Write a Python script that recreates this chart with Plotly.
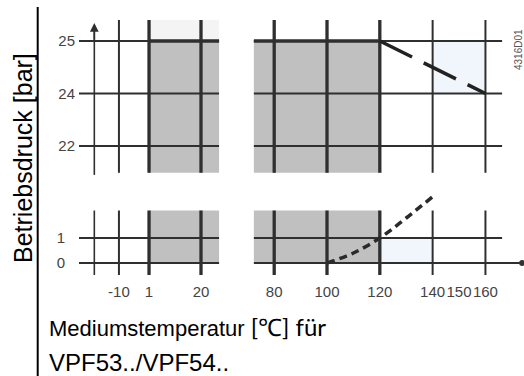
import plotly.graph_objects as go

# ---------------- data ----------------
TEMP_TICKS_LOW = [-10, 1, 20]
TEMP_TICKS_HIGH = [80, 100, 120, 140, 150, 160]
GRID_TEMPS_LOW = [-10, 1, 20]
GRID_TEMPS_HIGH = [80, 100, 120, 140, 160]
THICK_TEMPS = [1, 20, 80, 100, 120]
PRESSURE_LEVELS_HIGH = ["22", "24", "25"]
PRESSURE_TICKS_LOW = [0, 1]
RANGE_LOW_T = [1, 20]          # permitted range, low side (gray)
RANGE_HIGH_TMAX = 120          # permitted range, high side up to 120 °C (gray)
MAX_PRESSURE = "25"
LIMIT_LINE_T = [120, 160]      # derating line
LIMIT_LINE_P = ["25", "24"]
STEAM_T = [100, 110, 120, 130, 140]   # vapour pressure curve
STEAM_P = [0, 0.4, 1.0, 1.8, 2.65]
BLUE_TOP_T = [140, 160]
BLUE_TOP_P = ["24", "25"]
BLUE_LOW_T = [120, 140]
BLUE_LOW_P = [0, 1]

# ---------------- geometry ----------------
W, H = 524, 376
XL_DOM, XL_RANGE = (79, 230), (-24.6, 30.6)
XR_DOM, XR_RANGE = (240, 524), (67.05, 174.6)
YT_DOM, YT_RANGE = (18, 175), (-0.552, 2.438)
YB_DOM, YB_RANGE = (188, 280), (-0.68, 3.0)

XL_MIN, XL_MAX = -24.6, 26.6
XR_MIN, XR_MAX, XR_AXIS_END = 72.3, 166.3, 173.9
YT_BOT, YT_TOP = -0.51, 2.40
YB_BOT, YB_TOP = -0.48, 2.1
ARROW_X = -19

LINE = "#2f2f2f"
GRAY = "#c0c0c0"
BLUE = "#f1f6fc"
FONT = "Liberation Sans, Arial, sans-serif"


def cat(p):
    return PRESSURE_LEVELS_HIGH.index(p)


shapes = []


def rect(xref, yref, x0, x1, y0, y1, color):
    shapes.append(dict(type="rect", xref=xref, yref=yref, x0=x0, x1=x1, y0=y0, y1=y1,
                       fillcolor=color, line=dict(width=0), layer="below"))


def seg(xref, yref, x0, x1, y0, y1, w, color=LINE):
    shapes.append(dict(type="line", xref=xref, yref=yref, x0=x0, x1=x1, y0=y0, y1=y1,
                       line=dict(color=color, width=w), layer="below"))


# fills
rect("x", "y", RANGE_LOW_T[0], XL_MAX, cat(MAX_PRESSURE), YT_TOP, "#f4f4f4")
rect("x", "y", RANGE_LOW_T[0], XL_MAX, YT_BOT, cat(MAX_PRESSURE), GRAY)
rect("x2", "y", XR_MIN, RANGE_HIGH_TMAX, YT_BOT, cat(MAX_PRESSURE), GRAY)
rect("x2", "y", BLUE_TOP_T[0], BLUE_TOP_T[1], cat(BLUE_TOP_P[0]), cat(BLUE_TOP_P[1]), BLUE)
rect("x", "y2", RANGE_LOW_T[0], XL_MAX, 0, YB_TOP, GRAY)
rect("x2", "y2", XR_MIN, RANGE_HIGH_TMAX, 0, YB_TOP, GRAY)
rect("x2", "y2", BLUE_LOW_T[0], BLUE_LOW_T[1], BLUE_LOW_P[0], BLUE_LOW_P[1], BLUE)

# horizontal grid lines
for p in PRESSURE_LEVELS_HIGH:
    i = cat(p)
    seg("x", "y", XL_MIN, XL_MAX, i, i, 2)
    seg("x2", "y", XR_MIN, XR_MAX, i, i, 2)
i25 = cat(MAX_PRESSURE)
seg("x", "y", RANGE_LOW_T[0], XL_MAX, i25, i25, 3.5)
seg("x2", "y", XR_MIN, RANGE_HIGH_TMAX, i25, i25, 3.5)
for p in PRESSURE_TICKS_LOW:
    seg("x", "y2", XL_MIN, XL_MAX, p, p, 2.2)
seg("x2", "y2", XR_MIN, XR_MAX, 1, 1, 2.2)
seg("x2", "y2", XR_MIN, XR_AXIS_END, 0, 0, 2.2)

# vertical grid lines
for t in GRID_TEMPS_LOW:
    w = 3.3 if t in THICK_TEMPS else 2
    seg("x", "y", t, t, YT_BOT, YT_TOP, w)
    seg("x", "y2", t, t, YB_BOT, YB_TOP, w)
for t in GRID_TEMPS_HIGH:
    w = 3.3 if t in THICK_TEMPS else 2
    seg("x2", "y", t, t, YT_BOT, YT_TOP, w)
    seg("x2", "y2", t, t, YB_BOT, YB_TOP, w)
# y axis line (arrow part in annotation)
seg("x", "y", ARROW_X, ARROW_X, YT_BOT - 0.04, 2.2, 1.6)
seg("x", "y2", ARROW_X, ARROW_X, YB_BOT, YB_TOP, 1.6)

# frame line on the left (paper)
shapes.append(dict(type="line", xref="paper", yref="paper", x0=37.7 / W, x1=37.7 / W,
                   y0=0, y1=1 - 7 / H, line=dict(color="black", width=2)))

fig = go.Figure()
fig.add_trace(go.Scatter(x=LIMIT_LINE_T, y=LIMIT_LINE_P, xaxis="x2", yaxis="y", mode="lines",
                         line=dict(color="#222", width=3.5, dash="36px,13px"),
                         hoverinfo="skip", showlegend=False))
fig.add_trace(go.Scatter(x=STEAM_T, y=STEAM_P, xaxis="x2", yaxis="y2", mode="lines",
                         line=dict(color="#2a2a2a", width=3.5, dash="8px,5px", shape="spline"),
                         hoverinfo="skip", showlegend=False))
fig.add_trace(go.Scatter(x=[XR_AXIS_END], y=[0], xaxis="x2", yaxis="y2", mode="markers",
                         marker=dict(color="#333", size=6), cliponaxis=False,
                         hoverinfo="skip", showlegend=False))


def dom_x(d):
    return [d[0] / W, d[1] / W]


def dom_y(d):
    return [1 - d[1] / H, 1 - d[0] / H]


tickfont = dict(family=FONT, size=15, color="#444")
common = dict(showgrid=False, zeroline=False, showline=False, ticks="", automargin=False,
              fixedrange=True)

fig.update_layout(
    width=W, height=H, autosize=False,
    margin=dict(l=0, r=0, t=0, b=0, pad=0),
    paper_bgcolor="white", plot_bgcolor="rgba(0,0,0,0)",
    showlegend=False,
    xaxis=dict(domain=dom_x(XL_DOM), range=list(XL_RANGE), anchor="y2", tickangle=0,
               tickmode="array", tickvals=TEMP_TICKS_LOW, ticktext=[str(v) for v in TEMP_TICKS_LOW],
               tickfont=tickfont, ticklabelstandoff=1, **common),
    xaxis2=dict(domain=dom_x(XR_DOM), range=list(XR_RANGE), anchor="y2", tickangle=0,
                tickmode="array", tickvals=TEMP_TICKS_HIGH, ticktext=[str(v) for v in TEMP_TICKS_HIGH],
                tickfont=tickfont, ticklabelstandoff=1, **common),
    yaxis=dict(domain=dom_y(YT_DOM), range=list(YT_RANGE), anchor="x", type="category",
               categoryorder="array", categoryarray=PRESSURE_LEVELS_HIGH,
               tickfont=tickfont, ticklabelstandoff=3, **common),
    yaxis2=dict(domain=dom_y(YB_DOM), range=list(YB_RANGE), anchor="x",
                tickmode="array", tickvals=PRESSURE_TICKS_LOW,
                ticktext=[str(v) for v in PRESSURE_TICKS_LOW],
                tickfont=tickfont, ticklabelstandoff=13, **common),
    shapes=shapes,
    annotations=[
        dict(x=ARROW_X, y=2.343, xref="x", yref="y", ax=ARROW_X, ay=2.0, axref="x", ayref="y",
             showarrow=True, arrowhead=2, arrowsize=1.1, arrowwidth=1.6, arrowcolor=LINE, text=""),
        dict(x=23 / W, y=1 - 158 / H, xref="paper", yref="paper", text="Betriebsdruck [bar]",
             xanchor="center", yanchor="middle",
             textangle=-90, showarrow=False, font=dict(family=FONT, size=25, color="black")),
        dict(x=47 / W, y=1 - 326 / H, xref="paper", yref="paper", xanchor="left", yanchor="middle",
             text='Mediumstemperatur <span style="font-family:Lato, Open Sans;font-size:24px">[℃] für</span>',
             showarrow=False, font=dict(family=FONT, size=22, color="black")),
        dict(x=47 / W, y=1 - 362 / H, xref="paper", yref="paper", xanchor="left", yanchor="middle",
             text="VPF53../VPF54..", showarrow=False, font=dict(family=FONT, size=24, color="black")),
        dict(x=518 / W, y=1 - 50 / H, xref="paper", yref="paper", text="4316D01", textangle=-90,
             xanchor="center", yanchor="middle",
             showarrow=False, font=dict(family=FONT, size=10, color="#555")),
    ],
)

fig.write_html("out.html", post_script="document.body.style.margin='0';",
               config={"displayModeBar": False, "staticPlot": True})
